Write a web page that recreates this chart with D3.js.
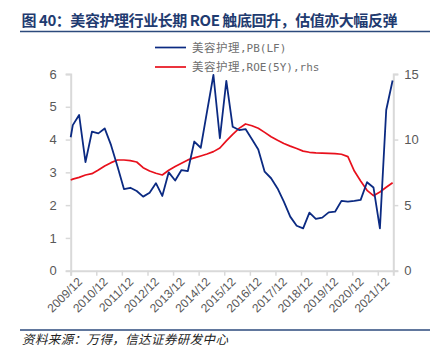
<!DOCTYPE html>
<html><head><meta charset="utf-8">
<script src="https://cdn.jsdelivr.net/npm/d3@7"></script>
<style>body{margin:0;background:#fff}svg{display:block}</style>
</head><body>
<svg id="c" width="440" height="360"></svg>
<script>
const titleText = "图 40：美容护理行业长期 ROE 触底回升，估值亦大幅反弹";
const sourceText = "资料来源：万得，信达证券研发中心";
const seriesCjk = ["美容护理", "美容护理"];
const seriesLatin = [",PB(LF)", ",ROE(5Y),rhs"];
const dates = ["2009-12-01","2009-12-31",
 "2010-03-31","2010-06-30","2010-09-30","2010-12-31",
 "2011-03-31","2011-06-30","2011-09-30","2011-12-31",
 "2012-03-31","2012-06-30","2012-09-30","2012-12-31",
 "2013-03-31","2013-06-30","2013-09-30","2013-12-31",
 "2014-03-31","2014-06-30","2014-09-30","2014-12-31",
 "2015-03-31","2015-06-30","2015-09-30","2015-12-31",
 "2016-03-31","2016-06-30","2016-09-30","2016-12-31",
 "2017-03-31","2017-06-30","2017-09-30","2017-12-31",
 "2018-03-31","2018-06-30","2018-09-30","2018-12-31",
 "2019-03-31","2019-06-30","2019-09-30","2019-12-31",
 "2020-03-31","2020-06-30","2020-09-30","2020-12-31",
 "2021-03-31","2021-06-30","2021-09-30","2021-12-31",
 "2022-03-31","2022-06-30"];
const pb = [4.07,4.44,
 4.75,3.31,4.24,4.19,
 4.34,3.83,3.18,2.49,
 2.53,2.43,2.26,2.38,
 2.67,2.28,3.00,2.75,
 3.07,3.04,3.94,3.75,
 4.86,5.97,4.04,5.79,
 4.39,4.29,4.32,4.01,
 3.70,3.02,2.82,2.51,
 2.11,1.65,1.37,1.29,
 1.77,1.58,1.62,1.78,
 1.80,2.13,2.11,2.13,
 2.16,2.70,2.54,1.29,
 4.90,5.80];
const roe = [6.92,6.98,
 7.12,7.30,7.40,7.68,
 7.99,8.24,8.44,8.44,
 8.39,8.29,7.86,7.60,
 7.43,7.30,7.66,7.95,
 8.20,8.45,8.60,8.75,
 8.90,9.08,9.36,9.90,
 10.40,10.85,11.19,11.05,
 10.86,10.55,10.22,9.95,
 9.70,9.50,9.32,9.12,
 9.03,8.98,8.97,8.95,
 8.93,8.88,8.70,7.60,
 6.84,6.13,5.72,6.00,
 6.36,6.71];
const xTickDates = ["2009-12-01","2010-12-01","2011-12-01","2012-12-01","2013-12-01","2014-12-01","2015-12-01","2016-12-01","2017-12-01","2018-12-01","2019-12-01","2020-12-01","2021-12-01"];
const xDomain = ["2009-12-01","2022-07-10"];
const leftTicks = [0,1,2,3,4,5,6];
const rightTicks = [0,5,10,15];

const parse = d3.utcParse("%Y-%m-%d");
const fmt = d3.utcFormat("%Y/%m");
const svg = d3.select("#c");
const L = 70.7, R = 393.3, T = 74, B = 270.7;
const x = d3.scaleUtc().domain(xDomain.map(parse)).range([L, R]);
const yL = d3.scaleLinear().domain([0,6]).range([B, T]);
const yR = d3.scaleLinear().domain([0,15]).range([B, T]);
const data = dates.map((d,i)=>({d:parse(d), pb:pb[i], roe:roe[i]}));

const axisColor = "#d9d9d9", tickTxt = "#595959";
const numFont = "'Liberation Sans', Arial, sans-serif";
const cjk = "'Noto Sans CJK SC', sans-serif";
const mono = "'DejaVu Sans Mono', 'Liberation Mono', monospace";
const blue = "#0b2a82", red = "#e8101c";

// title
svg.append("text").attr("x",21.5).attr("y",25.5).attr("font-family",cjk).attr("font-weight","bold")
  .attr("font-size",15).attr("fill","#1f3b70")
  .attr("textLength",376).attr("lengthAdjust","spacing").text(titleText);
svg.append("line").attr("x1",20).attr("x2",430).attr("y1",31.5).attr("y2",31.5).attr("stroke","#2c4a7c").attr("stroke-width",1.5);

// axes
const gl = svg.append("g").attr("transform",`translate(${L},0)`)
  .call(d3.axisLeft(yL).tickValues(leftTicks).tickSize(5).tickPadding(9).tickFormat(d3.format("d")));
const gr = svg.append("g").attr("transform",`translate(${R},0)`)
  .call(d3.axisRight(yR).tickValues(rightTicks).tickSize(5).tickPadding(6).tickFormat(d3.format("d")));
const gb = svg.append("g").attr("transform",`translate(0,${B})`)
  .call(d3.axisBottom(x).tickValues(xTickDates.map(parse)).tickSize(5).tickFormat(fmt));
[gl,gr,gb].forEach(g=>{
  g.select(".domain").attr("stroke",axisColor).attr("stroke-width",2);
  g.selectAll(".tick line").attr("stroke",axisColor).attr("stroke-width",1.5);
  g.selectAll(".tick text").attr("fill",tickTxt).attr("font-family",numFont).attr("font-size",13);
});
gb.selectAll(".tick text").attr("font-size",12).attr("text-anchor","end")
  .attr("transform","translate(6,6) rotate(-45)").attr("dy","0.35em").attr("y",4).attr("x",0);

// lines
const lineBlue = d3.line().x(d=>x(d.d)).y(d=>yL(d.pb));
const lineRed = d3.line().x(d=>x(d.d)).y(d=>yR(d.roe));
svg.append("path").datum(data).attr("d",lineRed).attr("fill","none").attr("stroke",red).attr("stroke-width",1.7).attr("stroke-linejoin","round");
svg.append("path").datum(data).attr("d",lineBlue).attr("fill","none").attr("stroke",blue).attr("stroke-width",1.8).attr("stroke-linejoin","round");

// legend
const leg = [{c:blue, y:47.5, i:0}, {c:red, y:67, i:1}];
leg.forEach(l=>{
  svg.append("line").attr("x1",155).attr("x2",186).attr("y1",l.y).attr("y2",l.y).attr("stroke",l.c).attr("stroke-width",1.7);
  const t = svg.append("text").attr("x",192).attr("y",l.y+4.3).attr("fill","#707070");
  t.append("tspan").attr("font-family",cjk).attr("font-size",11.5).attr("letter-spacing",0.5).text(seriesCjk[l.i]);
  t.append("tspan").attr("font-family",mono).attr("font-size",11).text(seriesLatin[l.i]);
});

// source
svg.append("line").attr("x1",20).attr("x2",430).attr("y1",330).attr("y2",330).attr("stroke","#2c4a7c").attr("stroke-width",1.5);
svg.append("text").attr("x",22).attr("y",344).attr("font-family",cjk).attr("font-style","italic")
  .attr("font-size",12.5).attr("fill","#222")
  .attr("textLength",206).attr("lengthAdjust","spacing").text(sourceText);
</script>
</body></html>
